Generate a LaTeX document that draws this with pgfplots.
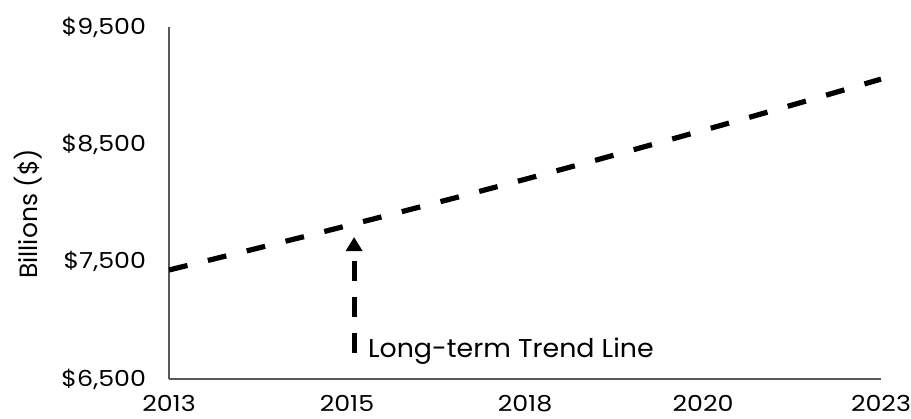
\documentclass[border=0pt]{standalone}
\usepackage{pgfplots}
\pgfplotsset{compat=1.18}
\usepackage{fontspec}
\setmainfont{Poppins}
\newfontfamily\tickfont{Poppins}[FakeStretch=1.15]
\newfontfamily\labfont{Poppins}
\newfontfamily\annfont{Poppins}[FakeStretch=1.04]
\usetikzlibrary{arrows.meta}
\definecolor{axisgray}{HTML}{595959}
\pgfplotstableread{
year value
2013 7429
2014 7578
2015 7729
2016 7884
2017 8041
2018 8202
2019 8366
2020 8534
2021 8704
2022 8878
2023 9056
}\trend
\begin{document}
\begin{tikzpicture}
\path[use as bounding box] (-84.5pt,-19.5pt) rectangle (371pt,189.5pt);
\begin{axis}[
  at={(0,0)}, anchor=south west,
  scale only axis, width=356pt, height=176pt,
  xmin=2013, xmax=2023, ymin=6500, ymax=9500,
  axis x line*=bottom, axis y line*=left,
  axis line style={axisgray, line width=0.6pt},
  every outer x axis line/.append style={-},
  every outer y axis line/.append style={-},
  xtick={2013,2015.5,2018,2020.5,2023},
  xticklabels={2013,2015,2018,2020,2023},
  ytick={6500,7500,8500,9500},
  yticklabels={{\$6,500},{\$7,500},{\$8,500},{\$9,500}},
  major tick length=0pt,
  tick label style={font=\tickfont\fontsize{11}{13}\selectfont, black},
  xticklabel style={anchor=north, yshift=-4.5pt},
  yticklabel style={anchor=east, xshift=-8pt},
  ylabel={Billions (\$)},
  every axis y label/.style={at={(rel axis cs:0,0.469)}, xshift=-70.5pt, anchor=center, rotate=90, font=\labfont\fontsize{12.5}{15}\selectfont},
  clip=false,
]
\addplot[black, line width=2.6pt, dash pattern=on 9.5pt off 10.5pt] table[x=year, y=value] {\trend};
\draw[black, line width=2.6pt, dash pattern=on 10pt off 8pt, -{Triangle[length=7pt, width=8pt]}]
  (axis cs:2015.6,6722) -- (axis cs:2015.6,7710);
\node[anchor=base west, inner sep=0pt, font=\annfont\fontsize{12.9}{15}\selectfont]
  at (axis cs:2015.79,6687) {Long-term Trend Line};
\end{axis}
\end{tikzpicture}
\end{document}
